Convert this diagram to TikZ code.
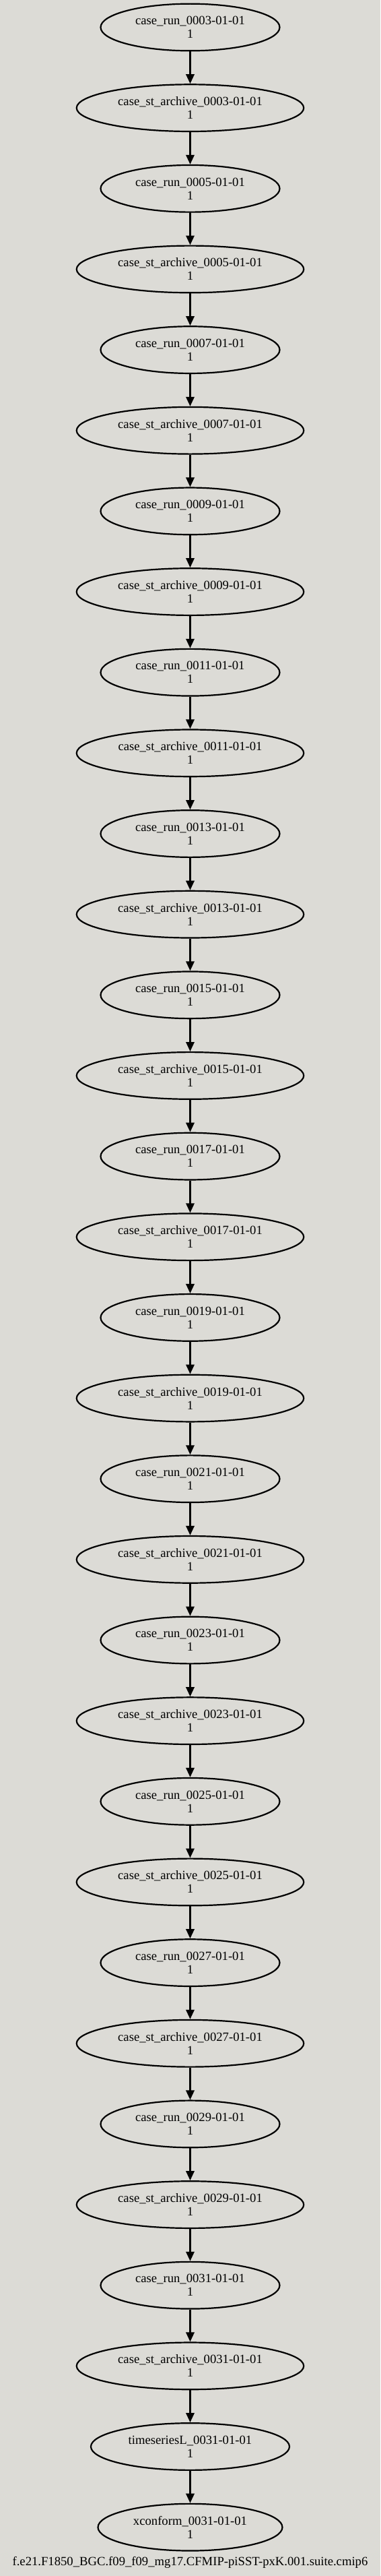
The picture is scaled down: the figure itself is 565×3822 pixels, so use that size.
\documentclass[tikz,border=0pt]{standalone}
\usepackage{fontspec}
\setmainfont{Liberation Serif}
\usetikzlibrary{shapes.geometric,arrows.meta}
\definecolor{bgc}{RGB}{220,219,214}
\tikzset{
  gnode/.style={ellipse, draw=black, line width=2.2pt, inner sep=0pt, align=center,
    minimum height=69.7pt, font=\fontsize{18.67pt}{20pt}\selectfont},
  runnode/.style={gnode, minimum width=266pt},
  archnode/.style={gnode, minimum width=337.5pt},
  tsnode/.style={gnode, minimum width=295pt},
  xcnode/.style={gnode, minimum width=274pt},
  edge/.style={line width=2.5pt, -{Triangle[length=14pt,width=12.3pt]}},
}
\begin{document}
\begin{tikzpicture}
\fill[bgc] (0,0) rectangle (565pt,-3822pt);
\useasboundingbox (0,0) rectangle (565pt,-3822pt);
\foreach \i/\t/\s in {
  0/case\_run\_0003-01-01/runnode,
  1/case\_st\_archive\_0003-01-01/archnode,
  2/case\_run\_0005-01-01/runnode,
  3/case\_st\_archive\_0005-01-01/archnode,
  4/case\_run\_0007-01-01/runnode,
  5/case\_st\_archive\_0007-01-01/archnode,
  6/case\_run\_0009-01-01/runnode,
  7/case\_st\_archive\_0009-01-01/archnode,
  8/case\_run\_0011-01-01/runnode,
  9/case\_st\_archive\_0011-01-01/archnode,
  10/case\_run\_0013-01-01/runnode,
  11/case\_st\_archive\_0013-01-01/archnode,
  12/case\_run\_0015-01-01/runnode,
  13/case\_st\_archive\_0015-01-01/archnode,
  14/case\_run\_0017-01-01/runnode,
  15/case\_st\_archive\_0017-01-01/archnode,
  16/case\_run\_0019-01-01/runnode,
  17/case\_st\_archive\_0019-01-01/archnode,
  18/case\_run\_0021-01-01/runnode,
  19/case\_st\_archive\_0021-01-01/archnode,
  20/case\_run\_0023-01-01/runnode,
  21/case\_st\_archive\_0023-01-01/archnode,
  22/case\_run\_0025-01-01/runnode,
  23/case\_st\_archive\_0025-01-01/archnode,
  24/case\_run\_0027-01-01/runnode,
  25/case\_st\_archive\_0027-01-01/archnode,
  26/case\_run\_0029-01-01/runnode,
  27/case\_st\_archive\_0029-01-01/archnode,
  28/case\_run\_0031-01-01/runnode,
  29/case\_st\_archive\_0031-01-01/archnode,
  30/timeseriesL\_0031-01-01/tsnode,
  31/xconform\_0031-01-01/xcnode}
{
  \node[\s] (n\i) at (282.5pt,{-(40.5+119.65*\i)*1pt}) {\t\\1};
}
\foreach \i [evaluate=\i as \j using int(\i+1)] in {0,...,30}
{
  \draw[edge] (n\i) -- (n\j);
}
\node[anchor=base, inner sep=0pt, font=\fontsize{18.67pt}{20pt}\selectfont] (lbl) at (282.5pt,-3806.5pt)
  {f.e21.F1850\_BGC.f09\_f09\_mg17.CFMIP-piSST-pxK.001.suite.cmip6};
\end{tikzpicture}
\end{document}
